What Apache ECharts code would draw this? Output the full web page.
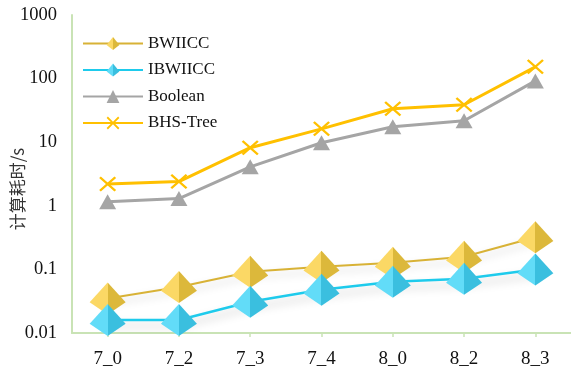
<!DOCTYPE html>
<html>
<head>
<meta charset="utf-8">
<script src="https://cdn.jsdelivr.net/npm/echarts@6/dist/echarts.min.js"></script>
<style>
html,body{margin:0;padding:0;background:#fff;}
#chart{width:571px;height:375px;}
</style>
</head>
<body>
<div id="chart"></div>
<script>
// Computation time (seconds) per dataset, log scale
const categories = ['7_0', '7_2', '7_3', '7_4', '8_0', '8_2', '8_3'];
const bwiicc   = [0.035, 0.053, 0.092, 0.11, 0.127, 0.158, 0.32];
const ibwiicc  = [0.016, 0.016, 0.031, 0.048, 0.064, 0.071, 0.10];
const boolean  = [1.16, 1.3, 4.1, 9.8, 17.5, 21.7, 92];
const bhsTree  = [2.2, 2.4, 8.2, 16.2, 33.5, 38.8, 153];
const yTicks   = [0.01, 0.1, 1, 10, 100, 1000];

const serif = '"Liberation Serif", "DejaVu Serif", serif';
const axisGreen = '#c9e3b5';

// pyramid seen from above: apex at top, two shaded faces
const pyramid = 'path://M50 0 L100 62 L50 100 L0 62 Z';
const cross = 'path://M0 2 L2 0 L10 8 L18 0 L20 2 L12 10 L20 18 L18 20 L10 12 L2 20 L0 18 L8 10 Z';

function faces(light, dark) {
  return {
    type: 'linear', x: 0, y: 0, x2: 1, y2: 0,
    colorStops: [
      { offset: 0, color: light }, { offset: 0.5, color: light },
      { offset: 0.5, color: dark }, { offset: 1, color: dark }
    ]
  };
}

const chart = echarts.init(document.getElementById('chart'));
chart.setOption({
  animation: false,
  backgroundColor: '#fff',
  grid: { left: 72, right: 0, top: 15, bottom: 42, containLabel: false, outerBoundsMode: 'none' },
  legend: {
    orient: 'vertical',
    left: 77, top: 30,
    itemWidth: 60, itemHeight: 16, itemGap: 9.5,
    textStyle: { fontFamily: serif, fontSize: 17, color: '#111' },
    data: ['BWIICC', 'IBWIICC', 'Boolean', 'BHS-Tree']
  },
  xAxis: {
    type: 'category',
    data: categories,
    boundaryGap: true,
    axisLine: { lineStyle: { color: axisGreen, width: 2 } },
    axisTick: { show: true, alignWithLabel: true, length: 4, lineStyle: { color: axisGreen, width: 1.5 } },
    axisLabel: { fontFamily: serif, fontSize: 19, color: '#111', margin: 17 },
    splitLine: { show: false }
  },
  yAxis: {
    type: 'log',
    logBase: 10,
    min: yTicks[0],
    max: yTicks[yTicks.length - 1],
    name: '计算耗时/s',
    nameLocation: 'middle',
    nameGap: 46,
    nameRotate: 90,
    nameMoveOverlap: false,
    nameTextStyle: { fontFamily: '"Noto Sans CJK SC", sans-serif', fontSize: 17, color: '#333', padding: [0, 30, 0, 0] },
    axisLine: { show: true, lineStyle: { color: axisGreen, width: 2 } },
    axisTick: { show: false },
    axisLabel: {
      fontFamily: serif, fontSize: 18.5, color: '#111', margin: 15,
      formatter: v => String(v)
    },
    splitLine: { show: false }
  },
  series: [
    {
      name: 'BWIICC', type: 'line', data: bwiicc,
      symbol: pyramid, symbolSize: [36, 32],
      lineStyle: { color: '#d8b236', width: 2, shadowColor: 'rgba(0,0,0,0.18)', shadowBlur: 8, shadowOffsetY: 5 },
      itemStyle: { color: faces('#fbd865', '#dcb83b') },
      z: 2
    },
    {
      name: 'IBWIICC', type: 'line', data: ibwiicc,
      symbol: pyramid, symbolSize: [36, 32],
      lineStyle: { color: '#1ecbec', width: 2.5, shadowColor: 'rgba(0,0,0,0.22)', shadowBlur: 10, shadowOffsetY: 6 },
      itemStyle: { color: faces('#62dcf8', '#3abfdf') },
      z: 3
    },
    {
      name: 'Boolean', type: 'line', data: boolean,
      symbol: 'triangle', symbolSize: [17, 15],
      lineStyle: { color: '#a5a5a5', width: 3 },
      itemStyle: { color: '#a5a5a5' },
      z: 4
    },
    {
      name: 'BHS-Tree', type: 'line', data: bhsTree,
      symbol: cross, symbolSize: [17, 15],
      lineStyle: { color: '#ffc000', width: 3 },
      itemStyle: { color: '#ffc000' },
      z: 5
    }
  ]
});
</script>
</body>
</html>
